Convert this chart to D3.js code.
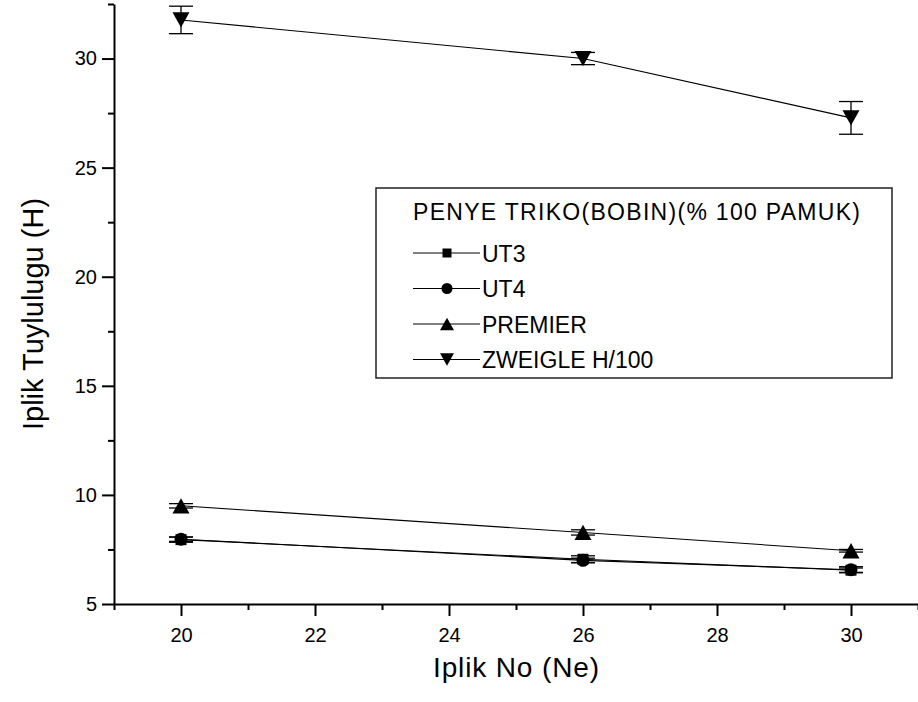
<!DOCTYPE html>
<html>
<head>
<meta charset="utf-8">
<script src="https://cdn.jsdelivr.net/npm/d3@7"></script>
<style>
  html, body { margin: 0; padding: 0; background: #fff; }
  svg { display: block; font-family: Arial, "Liberation Sans", sans-serif; }
</style>
</head>
<body>
<svg id="chart" width="918" height="702"></svg>
<script>
// Yarn count (Ne) on the x axis
const yarnCounts = [20, 26, 30];

// Hairiness values per machine, with standard deviations
const ut3Values = [7.95, 7.05, 6.55];
const ut3Errors = [0.12, 0.16, 0.10];
const ut4Values = [7.97, 7.00, 6.57];
const ut4Errors = [0.10, 0.10, 0.14];
const premierValues = [9.50, 8.28, 7.44];
const premierErrors = [0.10, 0.12, 0.06];
const zweigleValues = [31.77, 30.00, 27.28];
const zweigleErrors = [0.63, 0.28, 0.75];

const seriesNames = ["UT3", "UT4", "PREMIER", "ZWEIGLE H/100"];
const seriesShapes = ["square", "circle", "triangleUp", "triangleDown"];

const xTicks = [20, 22, 24, 26, 28, 30];
const yTicks = [5, 10, 15, 20, 25, 30];

const legendTitle = "PENYE TRIKO(BOBIN)(% 100 PAMUK)";
const xTitle = "Iplik No (Ne)";
const yTitle = "Iplik Tuylulugu (H)";

const series = [
  { name: seriesNames[0], shape: seriesShapes[0], values: ut3Values, errors: ut3Errors },
  { name: seriesNames[1], shape: seriesShapes[1], values: ut4Values, errors: ut4Errors },
  { name: seriesNames[2], shape: seriesShapes[2], values: premierValues, errors: premierErrors },
  { name: seriesNames[3], shape: seriesShapes[3], values: zweigleValues, errors: zweigleErrors }
];

const svg = d3.select("#chart");
const plot = { left: 114, right: 918, top: 4, bottom: 604 };

const x = d3.scaleLinear().domain([19, 31]).range([plot.left, plot.right]);
const y = d3.scaleLinear().domain([5, 32.5]).range([plot.bottom, plot.top]);

// marker path generator, s = overall size in px
function markerPath(shape, s) {
  const p = d3.path();
  if (shape === "square") {
    p.rect(-s / 2, -s / 2, s, s);
  } else if (shape === "circle") {
    p.arc(0, 0, s / 2, 0, Math.PI * 2);
  } else if (shape === "triangleUp") {
    const h = s * 0.9;
    p.moveTo(0, -h / 2); p.lineTo(s / 2, h / 2); p.lineTo(-s / 2, h / 2); p.closePath();
  } else {
    const h = s * 0.9;
    p.moveTo(0, h / 2); p.lineTo(s / 2, -h / 2); p.lineTo(-s / 2, -h / 2); p.closePath();
  }
  return p.toString();
}
const plotMarkerSize = { square: 11, circle: 13, triangleUp: 17, triangleDown: 17 };
const legendMarkerSize = { square: 9, circle: 11, triangleUp: 14, triangleDown: 14 };

// ---- axes ----
const axisColor = "#000";
const xMinor = d3.range(19, 31.01, 1).filter(v => !xTicks.includes(v));
const yMinor = d3.range(7.5, 32.51, 5);

const xAxisG = svg.append("g").attr("transform", `translate(0,${plot.bottom})`);
xAxisG.call(d3.axisBottom(x).tickValues(xTicks).tickSize(12).tickSizeOuter(0).tickPadding(12).tickFormat(d3.format("d")));
xAxisG.append("g").call(d3.axisBottom(x).tickValues(xMinor).tickSize(6).tickSizeOuter(0).tickFormat(""))
  .select(".domain").remove();

const yAxisG = svg.append("g").attr("transform", `translate(${plot.left},0)`);
yAxisG.call(d3.axisLeft(y).tickValues(yTicks).tickSize(12).tickSizeOuter(0).tickPadding(5).tickFormat(d3.format("d")));
yAxisG.append("g").call(d3.axisLeft(y).tickValues(yMinor).tickSize(6).tickSizeOuter(0).tickFormat(""))
  .select(".domain").remove();

svg.selectAll(".domain").attr("stroke", axisColor).attr("stroke-width", 2);
svg.selectAll(".tick line").attr("stroke", axisColor).attr("stroke-width", 2);
svg.selectAll(".tick text").attr("fill", "#000").attr("font-size", 20)
  .attr("font-family", "Arial, 'Liberation Sans', sans-serif");

// axis titles
svg.append("text")
  .attr("x", (plot.left + plot.right) / 2).attr("y", 677)
  .attr("text-anchor", "middle").attr("font-size", 28).attr("fill", "#000")
  .attr("textLength", 166).attr("lengthAdjust", "spacing")
  .text(xTitle);
svg.append("text")
  .attr("transform", `translate(43,${(plot.top + plot.bottom) / 2 + 10}) rotate(-90)`)
  .attr("text-anchor", "middle").attr("font-size", 29).attr("fill", "#000")
  .text(yTitle);

// ---- data ----
const line = d3.line().x(d => x(d.x)).y(d => y(d.y));
const capHalf = 12;

series.forEach(s => {
  const pts = yarnCounts.map((c, i) => ({ x: c, y: s.values[i], e: s.errors[i] }));
  const g = svg.append("g");
  g.append("path").datum(pts).attr("d", line)
    .attr("fill", "none").attr("stroke", "#000").attr("stroke-width", 1.1);
  const eb = g.selectAll(".eb").data(pts).join("g").attr("class", "eb")
    .attr("stroke", "#000").attr("stroke-width", 1.3);
  eb.append("line").attr("x1", d => x(d.x)).attr("x2", d => x(d.x))
    .attr("y1", d => y(d.y - d.e)).attr("y2", d => y(d.y + d.e));
  eb.append("line").attr("x1", d => x(d.x) - capHalf).attr("x2", d => x(d.x) + capHalf)
    .attr("y1", d => y(d.y + d.e)).attr("y2", d => y(d.y + d.e));
  eb.append("line").attr("x1", d => x(d.x) - capHalf).attr("x2", d => x(d.x) + capHalf)
    .attr("y1", d => y(d.y - d.e)).attr("y2", d => y(d.y - d.e));
  g.selectAll(".mk").data(pts).join("path").attr("class", "mk")
    .attr("transform", d => `translate(${x(d.x)},${y(d.y)})`)
    .attr("d", markerPath(s.shape, plotMarkerSize[s.shape]))
    .attr("fill", "#000");
});

// ---- legend ----
const lg = svg.append("g");
lg.append("rect").attr("x", 376).attr("y", 188).attr("width", 516).attr("height", 190)
  .attr("fill", "#fff").attr("stroke", "#222").attr("stroke-width", 1.5);
lg.append("text").attr("x", 413).attr("y", 220).attr("font-size", 23)
  .attr("textLength", 447).attr("lengthAdjust", "spacing").attr("fill", "#000")
  .text(legendTitle);
series.forEach((s, i) => {
  const cy = 253 + i * 35.5;
  lg.append("line").attr("x1", 413).attr("x2", 480).attr("y1", cy).attr("y2", cy)
    .attr("stroke", "#000").attr("stroke-width", 1);
  lg.append("path").attr("transform", `translate(447,${cy})`)
    .attr("d", markerPath(s.shape, legendMarkerSize[s.shape])).attr("fill", "#000");
  lg.append("text").attr("x", 482).attr("y", cy + 8.5).attr("font-size", 23).attr("fill", "#000")
    .text(s.name);
});
</script>
</body>
</html>
